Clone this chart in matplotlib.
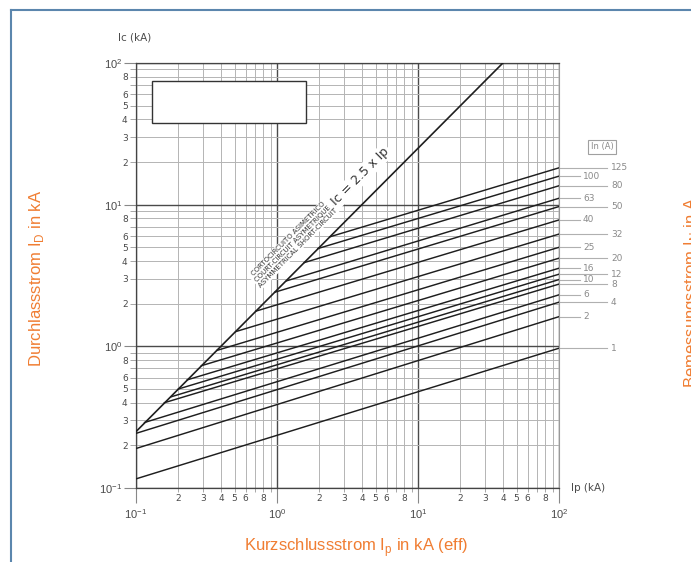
import math

import matplotlib
matplotlib.use("Agg")
import matplotlib.pyplot as plt
from matplotlib.lines import Line2D
from matplotlib.patches import Rectangle


plt.rcParams["font.family"] = ["DejaVu Sans"]
plt.rcParams["mathtext.fontset"] = "custom"
plt.rcParams["mathtext.rm"] = "Liberation Sans"

# rated current In (A) of each let-through curve
in_ratings = [1, 2, 4, 6, 8, 10, 12, 16, 20, 25, 32, 40, 50, 63, 80, 100, 125]
# start point of each curve (prospective Ip kA, cut-off Ic kA)
ip_start = [0.1, 0.1, 0.1, 0.115, 0.159, 0.177, 0.2, 0.231, 0.291, 0.374,
            0.509, 0.706, 0.965, 1.17, 1.56, 1.95, 2.37]
ic_start = [0.116, 0.19, 0.243, 0.29, 0.40, 0.44, 0.50, 0.58, 0.73, 0.935,
            1.27, 1.77, 2.41, 2.9, 3.9, 4.9, 5.93]
# Ic (kA) at the right edge, Ip = 100 kA
ip_end = 100
ic_end = [0.97, 1.62, 2.05, 2.31, 2.75, 2.96, 3.23, 3.56, 4.19, 5.0, 6.2,
          7.8, 9.7, 11.1, 13.6, 15.9, 18.2]
label_left_col = [100, 63, 40, 25, 16, 10, 6, 2]

# asymmetrical short circuit line Ic = 2.5 x Ip
diag_ip = [0.1, 40]
diag_ic = [0.25, 100]

decades = [0.1, 1, 10, 100]
decade_labels = ["$10^{-1}$", "$10^{0}$", "$10^{1}$", "$10^{2}$"]
minor_digits = [2, 3, 4, 5, 6, 7, 8, 9]
minor_shown = ["2", "3", "4", "5", "6", "", "8", ""]

W, H = 691, 562
ORANGE = "#F07D32"
INK = "#1e1e1e"
GREY_TXT = "#4a4a4a"

fig = plt.figure(figsize=(W / 100, H / 100), dpi=100)
ax = fig.add_axes([136 / W, 1 - 488 / H, 423 / W, 425 / H])
ax.set_xscale("log")
ax.set_yscale("log")
ax.set_xlim(0.1, 100)
ax.set_ylim(0.1, 100)

minor_pos = [d * m for d in decades[:-1] for m in minor_digits]
minor_lbl = [s for d in decades[:-1] for s in minor_shown]

ax.set_xticks(decades)
ax.set_xticklabels(decade_labels)
ax.set_xticks(minor_pos, minor=True)
ax.set_xticklabels(minor_lbl, minor=True)
ax.set_yticks(decades)
ax.set_yticklabels(decade_labels)
ax.set_yticks(minor_pos, minor=True)
ax.set_yticklabels(minor_lbl, minor=True)

ax.tick_params(axis="x", which="major", length=11, width=0.8, pad=2.5,
               color="#888888", labelsize=8, labelcolor=GREY_TXT)
ax.tick_params(axis="x", which="minor", length=3, width=0.6, pad=1.5,
               color="#999999", labelsize=6.5, labelcolor=GREY_TXT)
ax.tick_params(axis="y", which="major", length=9, width=0.8, pad=1,
               color="#888888", labelsize=8, labelcolor=GREY_TXT)
ax.tick_params(axis="y", which="minor", length=4.5, width=0.6, pad=1.5,
               color="#999999", labelsize=6.5, labelcolor=GREY_TXT)

ax.grid(which="major", color="#4a4a4a", lw=1.0)
ax.grid(which="minor", color="#b4b4b4", lw=0.7)
ax.set_axisbelow(True)
for side in ("left", "bottom", "top"):
	ax.spines[side].set_color("#444444")
	ax.spines[side].set_linewidth(0.9)
ax.spines["right"].set_color("#9a9a9a")

# blank title box of the scanned sheet
ax.add_patch(Rectangle((0.13, 38), 1.61 - 0.13, 74.5 - 38, facecolor="white",
                       edgecolor="#333333", lw=1.0, zorder=3))

ax.plot(diag_ip, diag_ic, color=INK, lw=1.2, zorder=4)
for i, rating in enumerate(in_ratings):
	ax.plot([ip_start[i], ip_end], [ic_start[i], ic_end[i]],
	        color=INK, lw=1.05, zorder=4)

	left = rating in label_left_col
	x_lead = 1 + (21 if left else 48) / 423
	x_txt = 1 + (24 if left else 52) / 423
	trans = ax.get_yaxis_transform()
	ax.plot([1.0, x_lead], [ic_end[i], ic_end[i]], color="#b0b0b0", lw=0.8,
	        transform=trans, clip_on=False)
	ax.text(x_txt, ic_end[i], str(rating), transform=trans, ha="left",
	        va="center", fontsize=6.5, color="#8a8a8a")

# angle of the 2.5 x Ip line on screen
p1 = ax.transData.transform((diag_ip[0], diag_ic[0]))
p2 = ax.transData.transform((diag_ip[1], diag_ic[1]))
angle = math.degrees(math.atan2(p2[1] - p1[1], p2[0] - p1[0]))

ax.text(3.9, 15.8, "Ic = 2.5 x Ip", rotation=angle, rotation_mode="anchor",
        ha="center", va="center", fontsize=9, color="#333333", zorder=5,
        bbox=dict(boxstyle="square,pad=0.15", fc="white", ec="none"))
ax.text(1.30, 5.33,
        "CORTOCIRCUITO ASIMETRICO\nCOURT-CIRCUIT ASYMETRIQUE\nASYMMETRICAL SHORT-CIRCUIT",
        rotation=angle, rotation_mode="anchor", ha="center", va="center",
        multialignment="center", fontsize=5, linespacing=1.15,
        color="#333333", zorder=5,
        bbox=dict(boxstyle="square,pad=0.1", fc="white", ec="none"))

fig.text(118 / W, 1 - 38 / H, "Ic (kA)", ha="left", va="center",
         fontsize=7.5, color=GREY_TXT)
fig.text(571 / W, 1 - 488 / H, "Ip (kA)", ha="left", va="center",
         fontsize=7.5, color=GREY_TXT)
fig.text(602 / W, 1 - 147 / H, "In (A)", ha="center", va="center",
         fontsize=6, color="#8a8a8a",
         bbox=dict(boxstyle="square,pad=0.35", fc="white", ec="#a0a0a0", lw=0.8))

fig.text(356 / W, 1 - 548 / H, r"Kurzschlussstrom I$_\mathrm{p}$ in kA (eff)",
         ha="center", va="center", fontsize=12, color=ORANGE,
         family="Liberation Sans")
fig.text(37 / W, 1 - 278 / H, r"Durchlassstrom I$_\mathrm{D}$ in kA",
         ha="center", va="center", rotation=90, fontsize=12, color=ORANGE,
         family="Liberation Sans")
# cut off by the right edge, as on the source slide
fig.text(682 / W, 1 - 292 / H, r"Bemessungsstrom I$_\mathrm{N}$ in A",
         ha="left", va="center", rotation=90, fontsize=12, color=ORANGE,
         family="Liberation Sans")

# slide frame
fig.add_artist(Line2D([11 / W, 11 / W], [0, 1 - 10 / H], color="#5b86ad", lw=1.5))
fig.add_artist(Line2D([11 / W, 1], [1 - 10 / H, 1 - 10 / H], color="#5b86ad", lw=1.5))

fig.savefig("out.png", dpi=100)
